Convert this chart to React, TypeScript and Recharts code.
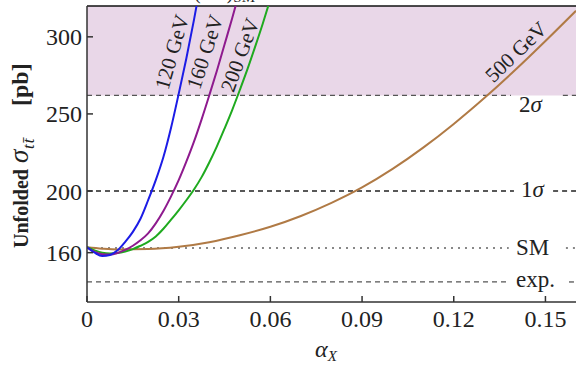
import { LineChart, Line, XAxis, YAxis, ReferenceLine, ReferenceArea } from "recharts"

document.body.style.margin = "0"

// alpha_X grid used for the light-mass curves
const alphaFine = [
  0, 0.0025, 0.005, 0.0075, 0.01, 0.0125, 0.015, 0.0175, 0.02, 0.0225, 0.025,
  0.0275, 0.03, 0.0325, 0.035, 0.0375, 0.04, 0.0425, 0.045, 0.0475, 0.05,
  0.0525, 0.055, 0.0575, 0.06,
]
const alphaCoarse = [
  0, 0.005, 0.01, 0.02, 0.03, 0.04, 0.05, 0.06, 0.07, 0.08, 0.09, 0.1, 0.11,
  0.12, 0.13, 0.14, 0.15, 0.16,
]

const sigma120 = [163.5, 160, 157.8, 158.5, 161.5, 167, 173.5, 182, 194, 207, 222, 241, 263, 286, 311, 338]
const sigma160 = [163.5, 160.5, 159, 158.8, 159.8, 161.8, 164.5, 168, 172.5, 179, 187, 196.5, 207, 219, 232, 246.5, 262, 278, 295, 312, 330]
const sigma200 = [163.5, 161.5, 160, 159.5, 159.8, 160.8, 162.3, 164.5, 167, 170.5, 175.5, 181.4, 187.5, 194, 201, 209, 218.5, 229, 240.5, 252.5, 265.5, 279, 293.5, 308.5, 324.5]
const sigma500 = [163.5, 162.6, 162.1, 162.3, 163.8, 166.8, 171.3, 176.8, 183.8, 192.3, 202.3, 214.3, 228.1, 243.5, 260.3, 278.3, 297.3, 316.9]

const xTicks = [0, 0.03, 0.06, 0.09, 0.12, 0.15]
const yTicks = [160, 200, 250, 300]

const SM = 163
const EXP = 141
const ONE_SIGMA = 200
const TWO_SIGMA = 262
const Y_MIN = 128
const Y_MAX = 320
const X_MAX = 0.16

const toRows = (xs: number[], ys: number[]) => ys.map((y, i) => ({ a: xs[i], s: y }))

const serif = "Liberation Serif, Times New Roman, serif"

const XTick = ({ x, y, payload }: any) => (
  <text x={x} y={y} dy="0.71em" textAnchor="middle" fontFamily={serif} fontSize={24} fill="#222">
    {payload.value === 0 ? "0" : String(payload.value)}
  </text>
)

const YTick = ({ x, y, payload }: any) => (
  <text x={x} y={y} dy="0.355em" textAnchor="end" fontFamily={serif} fontSize={24} fill="#222">
    {payload.value}
  </text>
)

// rotated piece of the y-axis title, starting at (x, y) and running upward
const Vert = ({ x, y, children, ...rest }: any) => (
  <text x={x} y={y} transform={`rotate(-90 ${x} ${y})`} fontFamily={serif} fill="#222" {...rest}>
    {children}
  </text>
)

export default function App() {
  return (
    <div style={{ position: "relative", width: 576, height: 366, background: "#fff", fontFamily: serif }}>
      <LineChart width={576} height={366} margin={{ top: 6, right: 0, left: 0, bottom: 0 }}>
        <ReferenceArea x1={0} x2={X_MAX} y1={TWO_SIGMA} y2={Y_MAX} fill="#e9d7e8" fillOpacity={1} stroke="none" />
        <XAxis
          type="number"
          dataKey="a"
          domain={[0, X_MAX]}
          ticks={xTicks}
          height={64}
          allowDataOverflow
          stroke="#333"
          strokeWidth={1.5}
          tickSize={-6}
          tickMargin={14}
          tick={<XTick />}
        />
        <YAxis
          type="number"
          dataKey="s"
          domain={[Y_MIN, Y_MAX]}
          ticks={yTicks}
          width={87}
          allowDataOverflow
          stroke="#333"
          strokeWidth={1.5}
          tickSize={-6}
          tickMargin={11}
          tick={<YTick />}
        />
        <ReferenceLine y={Y_MAX} stroke="#111" strokeWidth={1.5} />

        <ReferenceLine segment={[{ x: 0, y: TWO_SIGMA }, { x: 0.1387, y: TWO_SIGMA }]} stroke="#555" strokeDasharray="5 4" strokeWidth={1.3} />
        <ReferenceLine segment={[{ x: 0.1557, y: TWO_SIGMA }, { x: X_MAX, y: TWO_SIGMA }]} stroke="#555" strokeDasharray="5 4" strokeWidth={1.3} />
        <ReferenceLine segment={[{ x: 0, y: ONE_SIGMA }, { x: 0.1397, y: ONE_SIGMA }]} stroke="#222" strokeDasharray="5 4" strokeWidth={1.3} />
        <ReferenceLine segment={[{ x: 0.1525, y: ONE_SIGMA }, { x: X_MAX, y: ONE_SIGMA }]} stroke="#222" strokeDasharray="5 4" strokeWidth={1.3} />
        <ReferenceLine segment={[{ x: 0, y: SM }, { x: 0.138, y: SM }]} stroke="#888" strokeDasharray="2 5" strokeWidth={2} />
        <ReferenceLine segment={[{ x: 0.1567, y: SM }, { x: X_MAX, y: SM }]} stroke="#888" strokeDasharray="2 5" strokeWidth={2} />
        <ReferenceLine segment={[{ x: 0, y: EXP }, { x: 0.138, y: EXP }]} stroke="#555" strokeDasharray="5 4" strokeWidth={1.3} />
        <ReferenceLine segment={[{ x: 0.1577, y: EXP }, { x: X_MAX, y: EXP }]} stroke="#555" strokeDasharray="5 4" strokeWidth={1.3} />

        <Line data={toRows(alphaCoarse, sigma500)} dataKey="s" type="monotone" stroke="#b07a45" strokeWidth={2} dot={false} isAnimationActive={false} />
        <Line data={toRows(alphaFine, sigma200)} dataKey="s" type="monotone" stroke="#1faa1f" strokeWidth={2} dot={false} isAnimationActive={false} />
        <Line data={toRows(alphaFine, sigma160)} dataKey="s" type="monotone" stroke="#8e1a8e" strokeWidth={2} dot={false} isAnimationActive={false} />
        <Line data={toRows(alphaFine, sigma120)} dataKey="s" type="monotone" stroke="#1c1ce6" strokeWidth={2} dot={false} isAnimationActive={false} />

        {/* line labels */}
        <g fontFamily={serif} fontSize={23} fill="#222">
          <text x={519} y={112}>2<tspan fontStyle="italic">σ</tspan></text>
          <text x={521} y={197}>1<tspan fontStyle="italic">σ</tspan></text>
          <text x={516} y={255}>SM</text>
          <text x={516} y={287}>exp.</text>
        </g>

        {/* clipped title remnant */}
        <g fontFamily={serif} fill="#222">
          <text x={194} y={-1} fontSize={20}>(<tspan dx={26}>)</tspan><tspan fontSize={15} dy={3}>SM</tspan></text>
        </g>

        {/* y-axis title */}
        <Vert x={28} y={248} fontSize={20} fontWeight="bold">Unfolded</Vert>
        <Vert x={28} y={163} fontSize={27} fontStyle="italic">σ</Vert>
        <Vert x={34} y={149} fontSize={17} fontStyle="italic" letterSpacing={1}>tt̄</Vert>
        <Vert x={28} y={106} fontSize={24} fontWeight="bold">[pb]</Vert>

        <text x={326} y={357} textAnchor="middle" fontFamily={serif} fill="#222">
          <tspan fontStyle="italic" fontSize={24}>α</tspan>
          <tspan fontStyle="italic" fontSize={15} dy={4}>X</tspan>
        </text>
      </LineChart>

      {/* curve labels, drawn above the shaded band */}
      <svg width={576} height={366} style={{ position: "absolute", left: 0, top: 0, pointerEvents: "none" }}>
        <g fontFamily={serif} fontSize={21} fill="#222">
          <text x={172} y={52} textAnchor="middle" dominantBaseline="central" transform="rotate(-74 172 52)">120 GeV</text>
          <text x={205} y={52} textAnchor="middle" dominantBaseline="central" transform="rotate(-72 205 52)">160 GeV</text>
          <text x={240} y={55} textAnchor="middle" dominantBaseline="central" transform="rotate(-70 240 55)">200 GeV</text>
          <text x={516} y={52} textAnchor="middle" dominantBaseline="central" transform="rotate(-44 516 52)">500 GeV</text>
        </g>
      </svg>
    </div>
  )
}
